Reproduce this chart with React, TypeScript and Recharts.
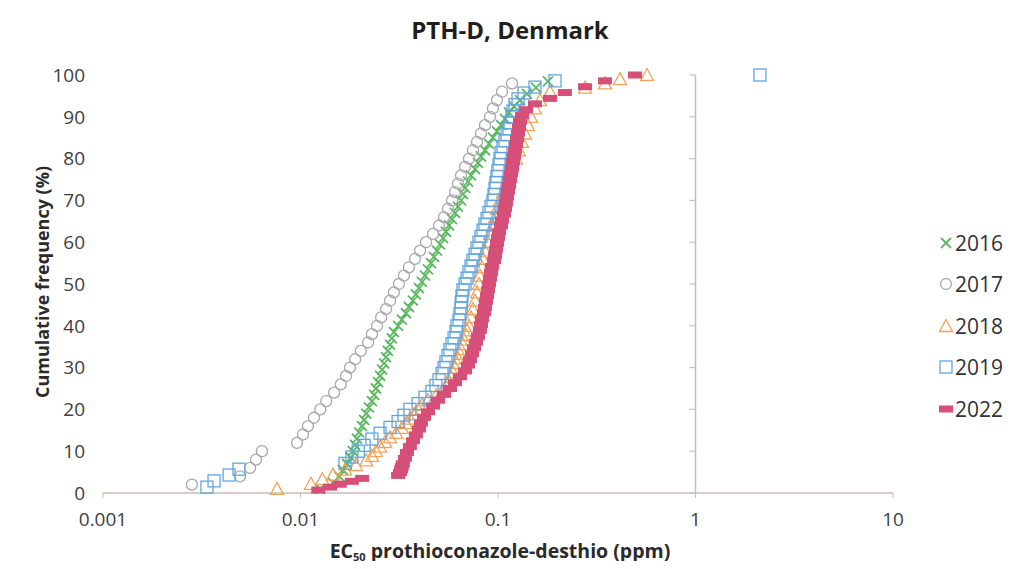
import { ScatterChart, Scatter, XAxis, YAxis, ReferenceLine, Legend } from 'recharts';

const FONT = '"Open Sans", sans-serif';
const AXIS = '#c9bdb8';

const xTicks = [0.001, 0.01, 0.1, 1, 10];
const yTicks = [0, 10, 20, 30, 40, 50, 60, 70, 80, 90, 100];

// EC50 (ppm) and cumulative frequency (%) per year
const ec2016 = [0.0126, 0.0146, 0.0157, 0.0164, 0.0172, 0.018, 0.0184, 0.0189, 0.0193, 0.0198, 0.0205, 0.021, 0.0215, 0.0222, 0.023, 0.0236, 0.0241, 0.0247, 0.0253, 0.0259, 0.0265, 0.0271, 0.0277, 0.0284, 0.029, 0.0297, 0.0312, 0.0326, 0.0342, 0.0354, 0.0371, 0.0384, 0.0398, 0.0412, 0.0427, 0.0442, 0.0458, 0.0474, 0.0491, 0.0509, 0.0527, 0.0545, 0.0565, 0.0585, 0.0606, 0.0627, 0.065, 0.0665, 0.0681, 0.0705, 0.073, 0.0765, 0.0792, 0.082, 0.0859, 0.09, 0.0943, 0.0988, 0.1036, 0.1085, 0.1137, 0.1205, 0.1292, 0.1402, 0.1557, 0.1791];
const cf2016 = [1, 2.5, 4, 5.5, 7, 8.5, 10, 11.5, 13, 14.5, 16, 17.5, 19, 20.5, 22, 23.5, 25, 26.5, 28, 29.5, 31, 32.5, 34, 35.5, 37, 38.5, 40, 41.5, 43, 44.5, 46, 47.5, 49, 50.5, 52, 53.5, 55, 56.5, 58, 59.5, 61, 62.5, 64, 65.5, 67, 68.5, 70, 71.5, 73, 74.5, 76, 77.5, 79, 80.5, 82, 83.5, 85, 86.5, 88, 89.5, 91, 92.5, 94, 95.5, 97, 98.5];

const ec2017 = [0.00282, 0.00494, 0.00555, 0.00595, 0.00638, 0.0096, 0.0103, 0.0109, 0.0117, 0.0126, 0.0135, 0.0148, 0.016, 0.017, 0.0178, 0.0189, 0.0202, 0.022, 0.023, 0.0244, 0.0256, 0.0271, 0.0284, 0.0297, 0.0315, 0.0334, 0.0354, 0.038, 0.0403, 0.0432, 0.0469, 0.0503, 0.0533, 0.0558, 0.0585, 0.0606, 0.0627, 0.065, 0.0681, 0.0713, 0.0747, 0.0783, 0.082, 0.0859, 0.0911, 0.0943, 0.0988, 0.1048, 0.1178];
const cf2017 = [2, 4, 6, 8, 10, 12, 14, 16, 18, 20, 22, 24, 26, 28, 30, 32, 34, 36, 38, 40, 42, 44, 46, 48, 50, 52, 54, 56, 58, 60, 62, 64, 66, 68, 70, 72, 74, 76, 78, 80, 82, 84, 86, 88, 90, 92, 94, 96, 98];

const ec2018 = [0.0076, 0.0113, 0.0129, 0.0146, 0.0168, 0.0191, 0.0215, 0.023, 0.0241, 0.0253, 0.0268, 0.0284, 0.0305, 0.0326, 0.0342, 0.0358, 0.0376, 0.0394, 0.0412, 0.0442, 0.0485, 0.0521, 0.0545, 0.0565, 0.0578, 0.0592, 0.0606, 0.062, 0.0627, 0.0642, 0.065, 0.0665, 0.0673, 0.0689, 0.0697, 0.0713, 0.073, 0.0747, 0.0765, 0.0783, 0.0801, 0.081, 0.083, 0.084, 0.0859, 0.089, 0.0911, 0.0943, 0.0966, 0.0988, 0.1024, 0.106, 0.1098, 0.1137, 0.1178, 0.1234, 0.1277, 0.1323, 0.137, 0.1419, 0.1469, 0.1539, 0.1632, 0.1834, 0.276, 0.348, 0.415, 0.568];
const cf2018 = [1, 2.2, 3.3, 4.4, 5.6, 6.7, 7.8, 8.9, 10, 11.1, 12.2, 13.3, 14.4, 15.6, 16.7, 17.8, 18.9, 20, 21.1, 22.2, 23.3, 24.4, 25.6, 26.7, 27.8, 28.9, 30, 31.1, 32.2, 33.3, 34.4, 35.6, 36.7, 37.8, 38.9, 40, 42, 44, 46, 48, 50, 52, 54, 56, 58, 60, 62, 64, 66, 68, 70, 72, 74, 76, 78, 80, 82, 84, 86, 88, 90, 92, 94, 96, 97, 98, 99, 100];

const ec2019 = [0.00336, 0.00365, 0.00435, 0.00488, 0.0168, 0.0182, 0.0196, 0.021, 0.023, 0.0253, 0.0284, 0.0312, 0.0334, 0.0358, 0.0394, 0.0427, 0.0463, 0.0485, 0.0503, 0.0521, 0.0533, 0.0545, 0.0558, 0.0571, 0.0585, 0.0599, 0.0613, 0.062, 0.0635, 0.0642, 0.065, 0.0652, 0.0657, 0.0665, 0.0681, 0.0697, 0.0713, 0.073, 0.0747, 0.0765, 0.0783, 0.0801, 0.082, 0.084, 0.0859, 0.088, 0.09, 0.0922, 0.0943, 0.0955, 0.0966, 0.0977, 0.0988, 0.1, 0.1012, 0.1024, 0.1036, 0.106, 0.1085, 0.1111, 0.1137, 0.115, 0.1178, 0.1191, 0.1219, 0.1263, 0.1354, 0.1539, 0.1944, 2.12];
const cf2019 = [1.4, 2.9, 4.3, 5.7, 7.1, 8.6, 10, 11.4, 12.9, 14.3, 15.7, 17.1, 18.6, 20, 21.4, 22.9, 24.3, 25.7, 27.1, 28.6, 30, 31.4, 32.9, 34.3, 35.7, 37.1, 38.6, 40, 41.4, 42.9, 44.3, 45.7, 47.1, 48.6, 50, 51.4, 52.9, 54.3, 55.7, 57.1, 58.6, 60, 61.4, 62.9, 64.3, 65.7, 67.1, 68.6, 70, 71.4, 72.9, 74.3, 75.7, 77.1, 78.6, 80, 81.4, 82.9, 84.3, 85.7, 87.1, 88.6, 90, 91.4, 92.9, 94.3, 95.7, 97.1, 98.6, 100];

const ec2022 = [0.0123, 0.0141, 0.0158, 0.0182, 0.0205, 0.0312, 0.0319, 0.0323, 0.0326, 0.033, 0.0338, 0.0346, 0.0358, 0.0371, 0.0384, 0.0398, 0.0407, 0.0422, 0.0442, 0.0469, 0.0497, 0.0533, 0.0571, 0.0606, 0.0642, 0.0681, 0.0705, 0.0721, 0.0739, 0.0756, 0.0774, 0.0792, 0.081, 0.082, 0.083, 0.0849, 0.0859, 0.0869, 0.088, 0.089, 0.09, 0.0911, 0.0922, 0.0932, 0.0955, 0.0966, 0.0977, 0.0988, 0.1, 0.1012, 0.1036, 0.1048, 0.1072, 0.1085, 0.1098, 0.1111, 0.1124, 0.1137, 0.115, 0.1164, 0.1178, 0.1191, 0.1205, 0.1219, 0.1234, 0.1248, 0.1263, 0.1277, 0.1292, 0.1323, 0.1386, 0.1539, 0.1834, 0.218, 0.276, 0.348, 0.494];
const cf2022 = [0.7, 1.4, 2.1, 2.8, 3.5, 4.2, 4.9, 5.6, 6.3, 7, 8.3, 9.7, 11.1, 12.5, 13.9, 15.3, 16.7, 18.1, 19.4, 20.8, 22.2, 23.6, 25, 26.4, 27.8, 29.2, 30.6, 31.9, 33.3, 34.7, 36.1, 37.5, 38.9, 40.3, 41.7, 43.1, 44.4, 45.8, 47.2, 48.6, 50, 51.4, 52.8, 54.2, 55.6, 56.9, 58.3, 59.7, 61.1, 62.5, 63.9, 65.3, 66.7, 68.1, 69.4, 70.8, 72.2, 73.6, 75, 76.4, 77.8, 79.2, 80.6, 81.9, 83.3, 84.7, 86.1, 87.5, 88.9, 90.3, 91.7, 93.1, 94.4, 95.8, 97.2, 98.6, 100];

const toPoints = (xs: number[], ys: number[]) =>
    xs.slice(0, ys.length).map((x, i) => ({ x, y: ys[i] }));

const series = [
    { name: '2016', data: toPoints(ec2016, cf2016), color: '#5cb860', kind: 'cross' },
    { name: '2017', data: toPoints(ec2017, cf2017), color: '#a8a8a8', kind: 'circle' },
    { name: '2018', data: toPoints(ec2018, cf2018), color: '#f0a35c', kind: 'triangle' },
    { name: '2019', data: toPoints(ec2019, cf2019), color: '#62a5de', kind: 'square' },
    { name: '2022', data: toPoints(ec2022, cf2022), color: '#d64f79', kind: 'dash' },
];

function Marker({ kind, cx, cy, color }: { kind: string; cx: number; cy: number; color: string }) {
    if (cx == null || cy == null) return null;
    switch (kind) {
        case 'cross':
            return (
                <path
                    d={`M${cx - 5},${cy - 5}L${cx + 5},${cy + 5}M${cx - 5},${cy + 5}L${cx + 5},${cy - 5}`}
                    stroke={color}
                    strokeWidth={1.8}
                />
            );
        case 'circle':
            return <circle cx={cx} cy={cy} r={5.5} fill="none" stroke={color} strokeWidth={1.3} />;
        case 'triangle':
            return (
                <path
                    d={`M${cx},${cy - 6.5}L${cx + 6.5},${cy + 5.5}L${cx - 6.5},${cy + 5.5}Z`}
                    fill="none"
                    stroke={color}
                    strokeWidth={1.3}
                />
            );
        case 'square':
            return <rect x={cx - 6} y={cy - 6} width={12} height={12} fill="none" stroke={color} strokeWidth={1.3} />;
        default:
            return <rect x={cx - 7} y={cy - 3.5} width={14} height={7} fill={color} />;
    }
}

function LegendBox() {
    return (
        <div style={{ fontFamily: FONT, fontSize: 21, color: '#333' }}>
            {series.map((s) => (
                <div key={s.name} style={{ height: 41.5, display: 'flex', alignItems: 'center' }}>
                    <svg width={14} height={14} style={{ marginRight: 2 }}>
                        <Marker kind={s.kind} cx={7} cy={7} color={s.color} />
                    </svg>
                    <span>{s.name}</span>
                </div>
            ))}
        </div>
    );
}

export default function App() {
    const tickStyle = { fill: '#404040', fontSize: 19, fontFamily: FONT };
    return (
        <div style={{ position: 'relative', width: 1003, height: 553 }}>
            <ScatterChart width={1003} height={553} margin={{ top: 67, right: 118, bottom: 0, left: 0 }}>
                <XAxis
                    type="number"
                    dataKey="x"
                    scale="log"
                    domain={[0.001, 10]}
                    ticks={xTicks}
                    allowDataOverflow
                    height={68}
                    axisLine={{ stroke: AXIS, strokeWidth: 1.5 }}
                    tickLine={{ stroke: AXIS }}
                    tickSize={5}
                    tickMargin={15}
                    tick={tickStyle}
                    tickFormatter={(v) => String(v)}
                />
                <YAxis
                    type="number"
                    dataKey="y"
                    domain={[0, 100]}
                    ticks={yTicks}
                    width={95}
                    axisLine={false}
                    tickLine={false}
                    tickMargin={12}
                    tick={tickStyle}
                />
                <ReferenceLine x={1} stroke={AXIS} strokeWidth={1.5} />
                {yTicks.map((t) => (
                    <ReferenceLine
                        key={t}
                        segment={[{ x: 0.933, y: t }, { x: 1, y: t }]}
                        stroke={AXIS}
                        strokeWidth={1.2}
                    />
                ))}
                {series.map((s) => (
                    <Scatter
                        key={s.name}
                        name={s.name}
                        data={s.data}
                        fill={s.color}
                        isAnimationActive={false}
                        shape={(p: any) => <Marker kind={s.kind} cx={p.cx} cy={p.cy} color={s.color} />}
                    />
                ))}
                <Legend
                    layout="vertical"
                    align="center"
                    verticalAlign="middle"
                    wrapperStyle={{ left: 931, top: 214, width: 80 }}
                    content={() => <LegendBox />}
                />
            </ScatterChart>
            <div
                style={{
                    position: 'absolute', left: 302, top: 5, width: 400, textAlign: 'center',
                    fontFamily: FONT, fontWeight: 700, fontSize: 24, color: '#1f1f1f',
                }}
            >
                PTH-D, Denmark
            </div>
            <div
                style={{
                    position: 'absolute', left: 192, top: 533, width: 600, textAlign: 'center', lineHeight: 1,
                    fontFamily: FONT, fontWeight: 700, fontSize: 19.5, color: '#2a2a2a',
                }}
            >
                EC<span style={{ fontSize: 11, position: 'relative', top: 3 }}>50</span> prothioconazole-desthio (ppm)
            </div>
            <div
                style={{
                    position: 'absolute', left: 34 - 150, top: 275 - 13, width: 300, textAlign: 'center',
                    transform: 'rotate(-90deg)', fontFamily: FONT, fontWeight: 700, fontSize: 18, color: '#2a2a2a',
                }}
            >
                Cumulative frequency (%)
            </div>
        </div>
    );
}
